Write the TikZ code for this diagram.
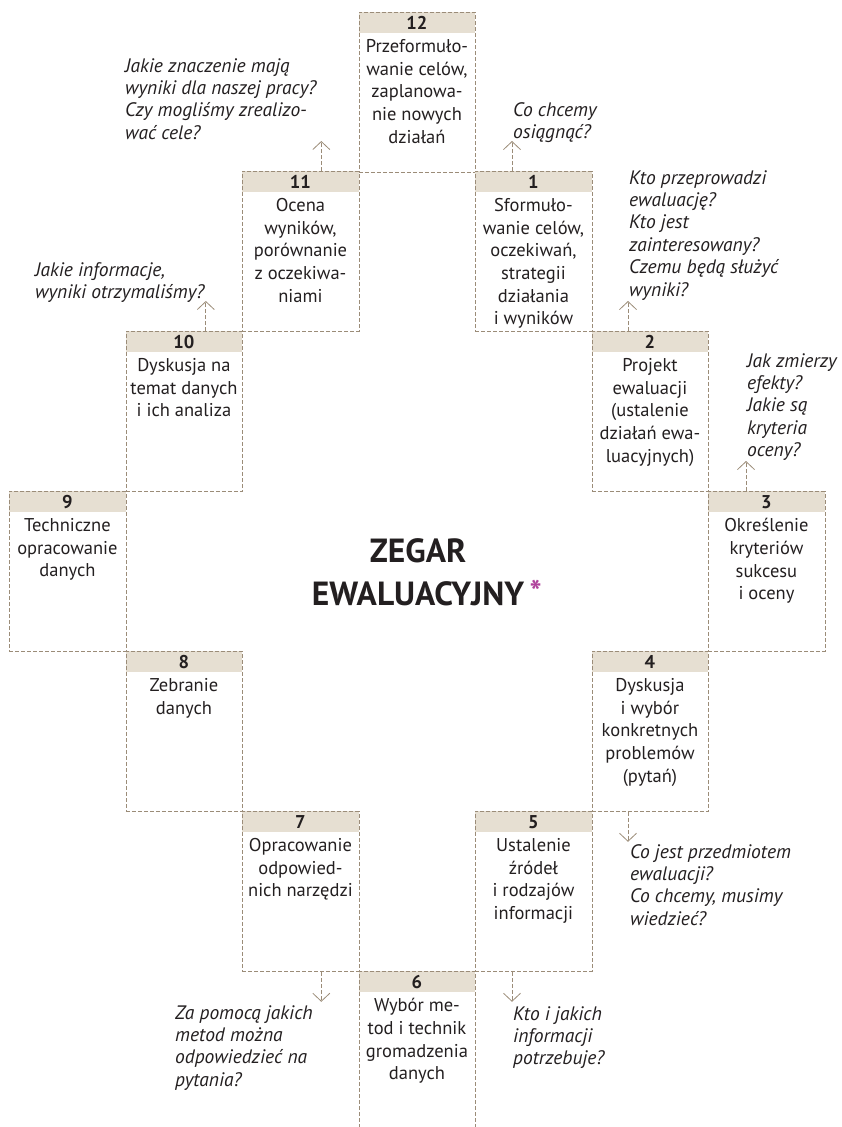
\documentclass[tikz,border=0pt]{standalone}
\usepackage{fontspec}
\setmainfont{PT Sans}
\usetikzlibrary{arrows.meta,positioning}
\definecolor{dashbrown}{RGB}{155,140,120}
\definecolor{headfill}{RGB}{230,223,210}
\definecolor{inkgray}{RGB}{35,31,32}
\definecolor{starpurple}{RGB}{176,68,156}
\tikzset{
	cellbox/.style={draw=dashbrown, dash pattern=on 4pt off 2pt, line width=0.8pt,
		minimum width=116.5pt, minimum height=160pt, anchor=north west, inner sep=0pt},
	cellhead/.style={fill=headfill, minimum width=116.5pt, minimum height=21pt,
		anchor=north west, inner sep=0pt, font=\fontsize{18.5}{20}\selectfont\bfseries},
	celltext/.style={anchor=north, align=center, inner sep=0pt,
		font=\fontsize{18.5}{22.6}\selectfont},
	question/.style={anchor=north west, align=left, inner sep=0pt,
		font=\fontsize{19.5}{22.4}\selectfont\itshape},
	qarrow/.style={draw=dashbrown, dash pattern=on 4pt off 2pt, line width=0.8pt,
		-{Straight Barb[width=17pt,length=8pt]}}
}
\begin{document}
\begin{tikzpicture}[x=1pt, y=-1pt, every node/.style={text=inkgray}]
		\useasboundingbox (0,0) rectangle (842,1127);
		\clip (0,0) rectangle (842,1127);

		% the twelve steps of the clock
		\foreach \nm/\cx/\cy/\bh/\txt in {
			12/358.5/12/160/{Przeformuło-\\wanie celów,\\zaplanowa-\\nie nowych\\działań},
			11/242/171/160/{Ocena\\wyników,\\porównanie\\z oczekiwa-\\niami},
			1/475/171/160/{Sformuło-\\wanie celów,\\oczekiwań,\\strategii\\działania\\i wyników},
			10/125.5/331/160/{Dyskusja na\\temat danych\\i ich analiza},
			2/591.5/331/160/{Projekt\\ewaluacji\\(ustalenie\\działań ewa-\\luacyjnych)},
			9/9/491/160/{Techniczne\\opracowanie\\danych},
			3/708/491/160/{Określenie\\kryteriów\\sukcesu\\i oceny},
			8/125.5/651/160/{Zebranie\\danych},
			4/591.5/651/160/{Dyskusja\\i wybór\\konkretnych\\problemów\\(pytań)},
			7/242/811/160/{Opracowanie\\odpowied-\\nich narzędzi},
			5/475/811/160/{Ustalenie\\źródeł\\i rodzajów\\informacji},
			6/358.5/971/220/{Wybór me-\\tod i technik\\gromadzenia\\danych}}{
			\node[cellhead] (h\nm) at (\cx,\cy) {\nm};
			\node[celltext] (t\nm) at ([yshift=-6pt]h\nm.south) {\txt};
			\node[cellbox, minimum height=\bh pt] (b\nm) at (\cx,\cy) {};
		}

		% title
		\node[font=\fontsize{33.5}{43}\selectfont\bfseries, align=center] (title) at (418,572)
			{ZEGAR\\EWALUACYJNY\rlap{\textcolor{starpurple}{\fontsize{32}{32}\selectfont\,\raisebox{2pt}{*}}}};

		% questions
		\node[question] (q11) at (125,58) {Jakie znaczenie mają\\wyniki dla naszej pracy?\\Czy mogliśmy zrealizo-\\wać cele?};
		\node[question] (q1) at (513,102) {Co chcemy\\osiągnąć?};
		\node[question] (q2) at (629,170) {Kto przeprowadzi\\ewaluację?\\Kto jest\\zainteresowany?\\Czemu będą służyć\\wyniki?};
		\node[question] (q3) at (747,353) {Jak zmierzy\\efekty?\\Jakie są\\kryteria\\oceny?};
		\node[question] (q10) at (35,262) {Jakie informacje,\\wyniki otrzymaliśmy?};
		\node[question] (q4) at (630,844) {Co jest przedmiotem\\ewaluacji?\\Co chcemy, musimy\\wiedzieć?};
		\node[question] (q7) at (175,1005) {Za pomocą jakich\\metod można\\odpowiedzieć na\\pytania?};
		\node[question] (q5) at (513,1006) {Kto i jakich\\informacji\\potrzebuje?};

		% arrows towards the questions
		\coordinate (a11) at ([xshift=-38pt, yshift=30pt]b11.north east);
		\coordinate (a1) at ([xshift=37pt, yshift=30pt]b1.north west);
		\coordinate (a10) at ([xshift=-37pt, yshift=30pt]b10.north east);
		\coordinate (a2) at ([xshift=36.5pt, yshift=30pt]b2.north west);
		\coordinate (a3) at ([xshift=38pt, yshift=30pt]b3.north west);
		\coordinate (a4) at ([xshift=36.5pt, yshift=-30pt]b4.south west);
		\coordinate (a5) at ([xshift=37pt, yshift=-30pt]b5.south west);
		\coordinate (a7) at ([xshift=-38pt, yshift=-30pt]b7.south east);

		\draw[qarrow] ([xshift=-38pt]b11.north east) -- (a11);
		\draw[qarrow] ([xshift=37pt]b1.north west) -- (a1);
		\draw[qarrow] ([xshift=-37pt]b10.north east) -- (a10);
		\draw[qarrow] ([xshift=36.5pt]b2.north west) -- (a2);
		\draw[qarrow] ([xshift=38pt]b3.north west) -- (a3);
		\draw[qarrow] ([xshift=36.5pt]b4.south west) -- (a4);
		\draw[qarrow] ([xshift=37pt]b5.south west) -- (a5);
		\draw[qarrow] ([xshift=-38pt]b7.south east) -- (a7);
	\end{tikzpicture}
\end{document}
